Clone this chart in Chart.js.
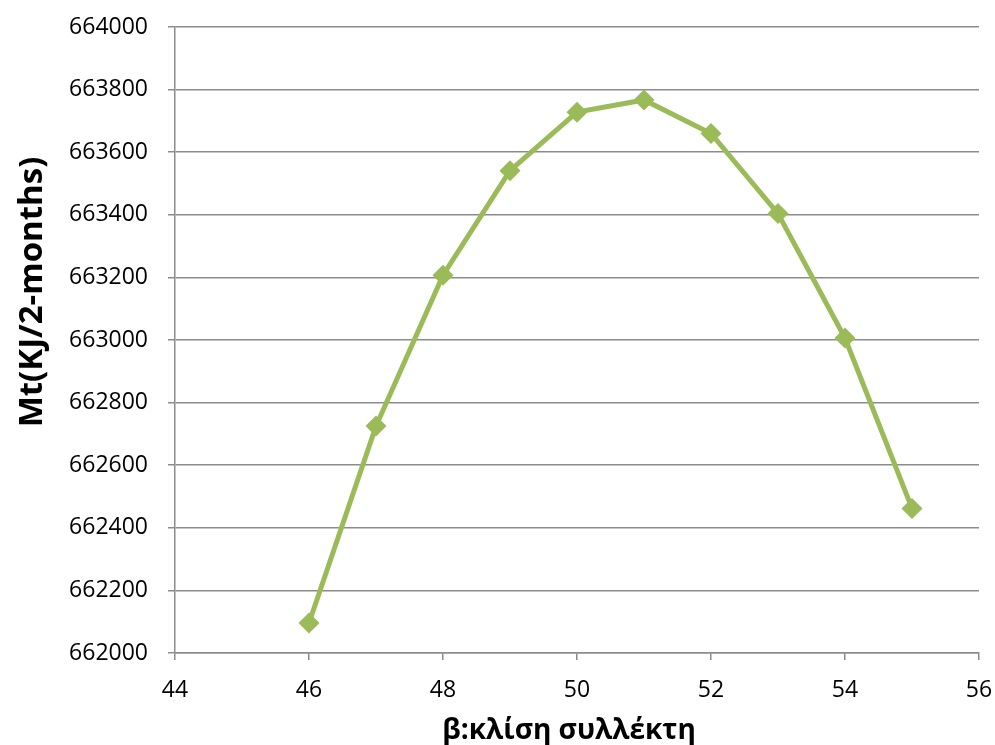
<!DOCTYPE html>
<html>
<head>
<meta charset="utf-8">
<script src="https://cdn.jsdelivr.net/npm/chart.js@4.4.1/dist/chart.umd.min.js"></script>
<style>
  html, body { margin: 0; padding: 0; background: #ffffff; }
  #wrap { width: 995px; height: 745px; position: relative; }
</style>
</head>
<body>
<div id="wrap"><canvas id="c" width="995" height="745"></canvas></div>
<script>
// Collector tilt angle (degrees) and the resulting energy per two months
const tiltAngles = [46, 47, 48, 49, 50, 51, 52, 53, 54, 55];
const energyValues = [662096, 662725, 663207, 663541, 663728, 663767, 663660, 663404, 663006, 662462];
const xTickRange = { min: 44, max: 56, step: 2 };
const yTickRange = { min: 662000, max: 664000, step: 200 };
const xTitle = 'β:κλίση συλλέκτη';
const yTitle = 'Mt(KJ/2-months)';

const points = tiltAngles.map((x, i) => ({ x: x, y: energyValues[i] }));
const gridGray = '#8c8c8c';
const fontFamily = '"Open Sans", "Liberation Sans", sans-serif';

// Axis titles drawn beside the scales, placed relative to the chart area
const axisTitles = {
  id: 'axisTitles',
  afterDraw(chart) {
    const ctx = chart.ctx;
    const area = chart.chartArea;
    ctx.save();
    ctx.fillStyle = '#000';
    ctx.textAlign = 'center';
    ctx.textBaseline = 'alphabetic';
    ctx.font = 'bold 28px ' + fontFamily;
    ctx.fillText(xTitle, (area.left + area.right) / 2 - 8, area.bottom + 86);
    ctx.translate(42, 292);
    ctx.rotate(-Math.PI / 2);
    ctx.font = 'bold 33px ' + fontFamily;
    ctx.fillText(yTitle, 0, 0);
    ctx.restore();
  }
};

new Chart(document.getElementById('c'), {
  type: 'line',
  data: {
    datasets: [{
      data: points,
      borderColor: '#9bbb59',
      backgroundColor: '#9bbb59',
      borderWidth: 5,
      pointStyle: 'rectRot',
      pointRadius: 10.5,
      pointHoverRadius: 10.5,
      pointBorderWidth: 0,
      tension: 0,
      fill: false
    }]
  },
  plugins: [axisTitles],
  options: {
    responsive: false,
    animation: false,
    layout: { padding: { top: 27, right: 16, left: 0, bottom: 0 } },
    plugins: { legend: { display: false }, tooltip: { enabled: false } },
    scales: {
      x: {
        type: 'linear',
        min: xTickRange.min,
        max: xTickRange.max,
        ticks: { stepSize: xTickRange.step, color: '#000', padding: 17, font: { family: fontFamily, size: 23 },
                 callback: (v) => String(v) },
        grid: { drawOnChartArea: false, drawTicks: true, tickLength: 7, color: gridGray, lineWidth: 1.5 },
        border: { display: true, color: gridGray, width: 1.5 },
        afterFit: (s) => { s.height = 92; s.paddingLeft = 0; s.paddingRight = 0; }
      },
      y: {
        min: yTickRange.min,
        max: yTickRange.max,
        ticks: { stepSize: yTickRange.step, color: '#000', padding: 20, font: { family: fontFamily, size: 23 },
                 callback: (v) => String(v) },
        grid: { drawTicks: true, tickLength: 7, color: gridGray, lineWidth: 1.5 },
        border: { display: true, color: gridGray, width: 1.5 },
        afterFit: (s) => { s.width = 175; s.paddingTop = 0; s.paddingBottom = 0; }
      }
    }
  }
});
</script>
</body>
</html>
